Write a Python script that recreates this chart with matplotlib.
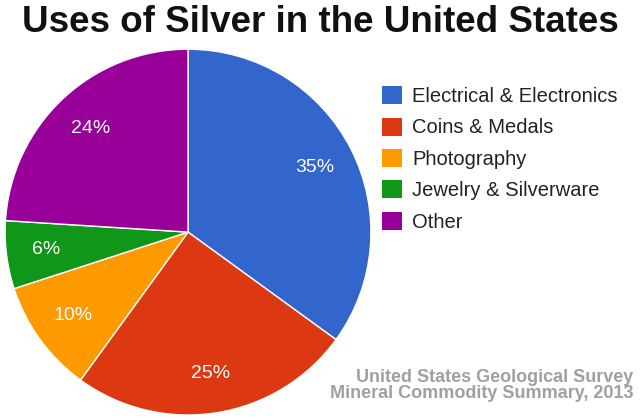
import matplotlib.pyplot as plt
from matplotlib.patches import Patch

plt.rcParams['font.family'] = ['Liberation Sans', 'DejaVu Sans']

uses = ["Electrical & Electronics", "Coins & Medals", "Photography",
        "Jewelry & Silverware", "Other"]
shares = [35, 25, 10, 6, 24]
colors = ["#3366cc", "#dc3912", "#ff9900", "#109618", "#990099"]

fig = plt.figure(figsize=(6.4, 4.2), dpi=100)
ax = fig.add_axes([0.0078, 0.0119, 0.572, 0.871])

ax.pie(shares, colors=colors, startangle=90, counterclock=False,
       autopct='%d%%', pctdistance=0.78,
       wedgeprops=dict(edgecolor='white', linewidth=1),
       textprops=dict(color='white', fontsize=14))
ax.set_xlim(-1, 1)
ax.set_ylim(-1, 1)
ax.set_aspect('equal')

fig.text(0.5, 0.947, "Uses of Silver in the United States", ha='center', va='center',
         fontsize=26.5, fontweight='bold', color='#111111')

handles = [Patch(facecolor=c, edgecolor='none') for c in colors]
fig.legend(handles, uses, loc='upper left', bbox_to_anchor=(0.569, 0.838),
           frameon=False, fontsize=14.5, handlelength=1.0, handleheight=1.0,
           handletextpad=0.5, labelspacing=0.57, labelcolor='#222222')

fig.text(0.99, 0.100, "United States Geological Survey", ha='right', va='center',
         fontsize=13, fontweight='bold', color='#a0a0a0')
fig.text(0.99, 0.062, "Mineral Commodity Summary, 2013", ha='right', va='center',
         fontsize=13, fontweight='bold', color='#a0a0a0')

fig.savefig("out.png", dpi=100)
